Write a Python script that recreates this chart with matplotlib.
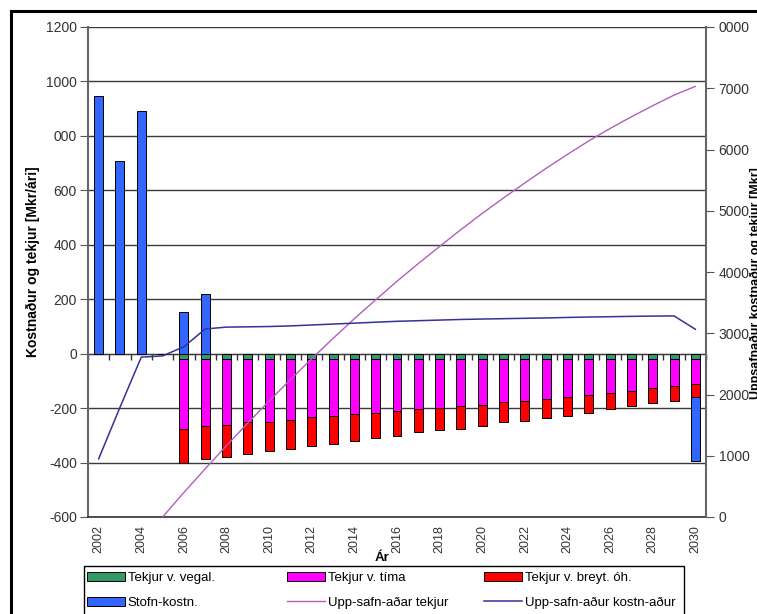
import numpy as np
import matplotlib
matplotlib.use('Agg')
import matplotlib.pyplot as plt
from matplotlib.patches import Rectangle, Patch
from matplotlib.lines import Line2D

plt.rcParams['font.family'] = ['Liberation Sans', 'DejaVu Sans']

years = list(range(2002, 2031))

# arleg gildi [Mkr/ari]
stofn = [948, 706, 890, 0, 154, 220] + [0] * 22 + [-232]
vegal = [0, 0, 0, 0] + [-20] * 25
timi = [0, 0, 0, 0, -255, -247, -242, -232, -230, -223, -214, -209, -202, -197,
        -190, -183, -180, -172, -167, -156, -153, -147, -141, -132, -123, -116,
        -107, -99, -91]
breyt = [0, 0, 0, 0, -125, -120, -117, -117, -109, -107, -107, -102, -100, -91,
         -93, -86, -79, -83, -78, -76, -73, -71, -67, -67, -60, -55, -54, -54, -50]

# uppsafnad [Mkr]
upp_tekjur = [np.nan, np.nan, np.nan, 0, 400, 787, 1166, 1535, 1894, 2244, 2585,
              2916, 3238, 3546, 3849, 4138, 4417, 4692, 4957, 5209, 5455, 5693,
              5921, 6140, 6343, 6534, 6715, 6888, 7030]
upp_kostn = [950, 1790, 2610, 2630, 2780, 3070, 3100, 3105, 3110, 3120, 3135,
             3150, 3165, 3180, 3195, 3205, 3215, 3225, 3232, 3238, 3244, 3250,
             3258, 3265, 3270, 3276, 3280, 3283, 3065]

c_green = '#339966'
c_mag = '#FF00FF'
c_red = '#FF0000'
c_blue = '#3366FF'
c_line_t = '#B060B8'
c_line_k = '#333399'

fig = plt.figure(figsize=(7.57, 6.14), dpi=100)
ax = fig.add_axes([88/757, 97/614, 618/757, 490/614])
ax2 = ax.twinx()

x = np.arange(len(years))
w = 0.42
ev = dict(edgecolor='black', linewidth=0.7)

vegal = np.array(vegal, float)
timi = np.array(timi, float)
breyt = np.array(breyt, float)
stofn = np.array(stofn, float)

ax.bar(x, vegal, w, color=c_green, **ev)
ax.bar(x, timi, w, bottom=vegal, color=c_mag, **ev)
ax.bar(x, breyt, w, bottom=vegal + timi, color=c_red, **ev)
neg_base = vegal + timi + breyt
stofn_bottom = np.where(stofn < 0, neg_base, 0)
ax.bar(x, stofn, w, bottom=stofn_bottom, color=c_blue, **ev)

ax2.plot(x, upp_tekjur, color=c_line_t, lw=1.0)
ax2.plot(x, upp_kostn, color=c_line_k, lw=1.1)

ax.set_xlim(-0.5, len(years) - 0.5)
ax.set_ylim(-600, 1200)
ax.set_yticks(range(-600, 1201, 200))
ax.set_yticklabels(['-600', '-400', '-200', '0', '200', '400', '600', '000', '1000', '1200'])
ax.set_axisbelow(True)
ax.yaxis.grid(True, color='#3a3a3a', lw=1.0)
ax.axhline(1200, color='#a0a0a0', lw=1.2, zorder=0.5)

ax.set_xticks(x[::2])
ax.set_xticklabels([str(y) for y in years[::2]], rotation=90)
ax.tick_params(axis='x', length=0, pad=6, labelsize=9, labelcolor='#333333')
ax.tick_params(axis='y', direction='out', length=6, color='#555555',
               labelsize=10, labelcolor='#333333', pad=2)

# litlir tikkar a 0-linu
sec = ax.secondary_xaxis(1/3)
sec.set_xticks(np.arange(-0.5, len(years), 1))
sec.set_xticklabels([])
sec.tick_params(direction='out', length=4, color='#333333', width=1)

ax.spines['top'].set_visible(False)
ax2.spines['top'].set_visible(False)
ax.spines['left'].set_color('#666666')
ax.spines['left'].set_linewidth(1.5)
ax.spines['bottom'].set_color('#333333')
ax.spines['bottom'].set_linewidth(1.2)
ax.spines['right'].set_visible(False)
ax2.spines['left'].set_visible(False)
ax2.spines['bottom'].set_visible(False)
ax2.spines['right'].set_color('#666666')
ax2.spines['right'].set_linewidth(1.5)

ax2.set_ylim(0, 8000)
ax2.set_yticks(range(0, 8001, 1000))
ax2.set_yticklabels(['0', '1000', '2000', '3000', '4000', '5000', '6000', '7000', '0000'])
ax2.tick_params(axis='y', direction='out', length=6, color='#555555',
                labelsize=10, labelcolor='#333333', pad=3)

fig.text(382/757, 1 - 558/614, 'Ár', ha='center', va='center', fontsize=9.5, fontweight='bold')
fig.text(33/757, 1 - 262/614, 'Kostnaður og tekjur [Mkr/ári]', rotation=90,
         ha='center', va='center', fontsize=10, fontweight='bold')
# haegri asatexti: skorinn af vid jadar eins og i frummyndinni
fig.text(756/757, 1 - 283/614, 'Uppsafnaður kostnaður og tekjur [Mkr]', rotation=90,
         ha='center', va='center', fontsize=9, fontweight='bold')

# legend, thrir dalkar
cols = [
    [Patch(facecolor=c_green, edgecolor='black', lw=0.7, label='Tekjur v. vegal.'),
     Patch(facecolor=c_blue, edgecolor='black', lw=0.7, label='Stofn-kostn.')],
    [Patch(facecolor=c_mag, edgecolor='black', lw=0.7, label='Tekjur v. tíma'),
     Line2D([], [], color=c_line_t, lw=1.0, label='Upp-safn-aðar tekjur')],
    [Patch(facecolor=c_red, edgecolor='black', lw=0.7, label='Tekjur v. breyt. óh.'),
     Line2D([], [], color=c_line_k, lw=1.1, label='Upp-safn-aður kostn-aður')],
]
col_x = [84, 284, 481]
for hs, cx in zip(cols, col_x):
    fig.legend(handles=hs, loc='upper left', bbox_to_anchor=(cx/757, 1 - 569/614),
               fontsize=9.5, frameon=False, handlelength=2.9, handleheight=0.75,
               handletextpad=0.2, borderpad=0.2, labelspacing=0.95, borderaxespad=0)

fig.patches.append(Rectangle((84/757, -0.05), 600/757, 0.05 + 1 - 566/614,
                             transform=fig.transFigure, fill=False,
                             edgecolor='black', lw=1.0))

# ytri rammi
fig.patches.append(Rectangle((11/757, -0.1), 1.2, 1.1 - 11/614, transform=fig.transFigure,
                             fill=False, edgecolor='black', lw=2.2, clip_on=False))

fig.savefig('out.png', dpi=100)
